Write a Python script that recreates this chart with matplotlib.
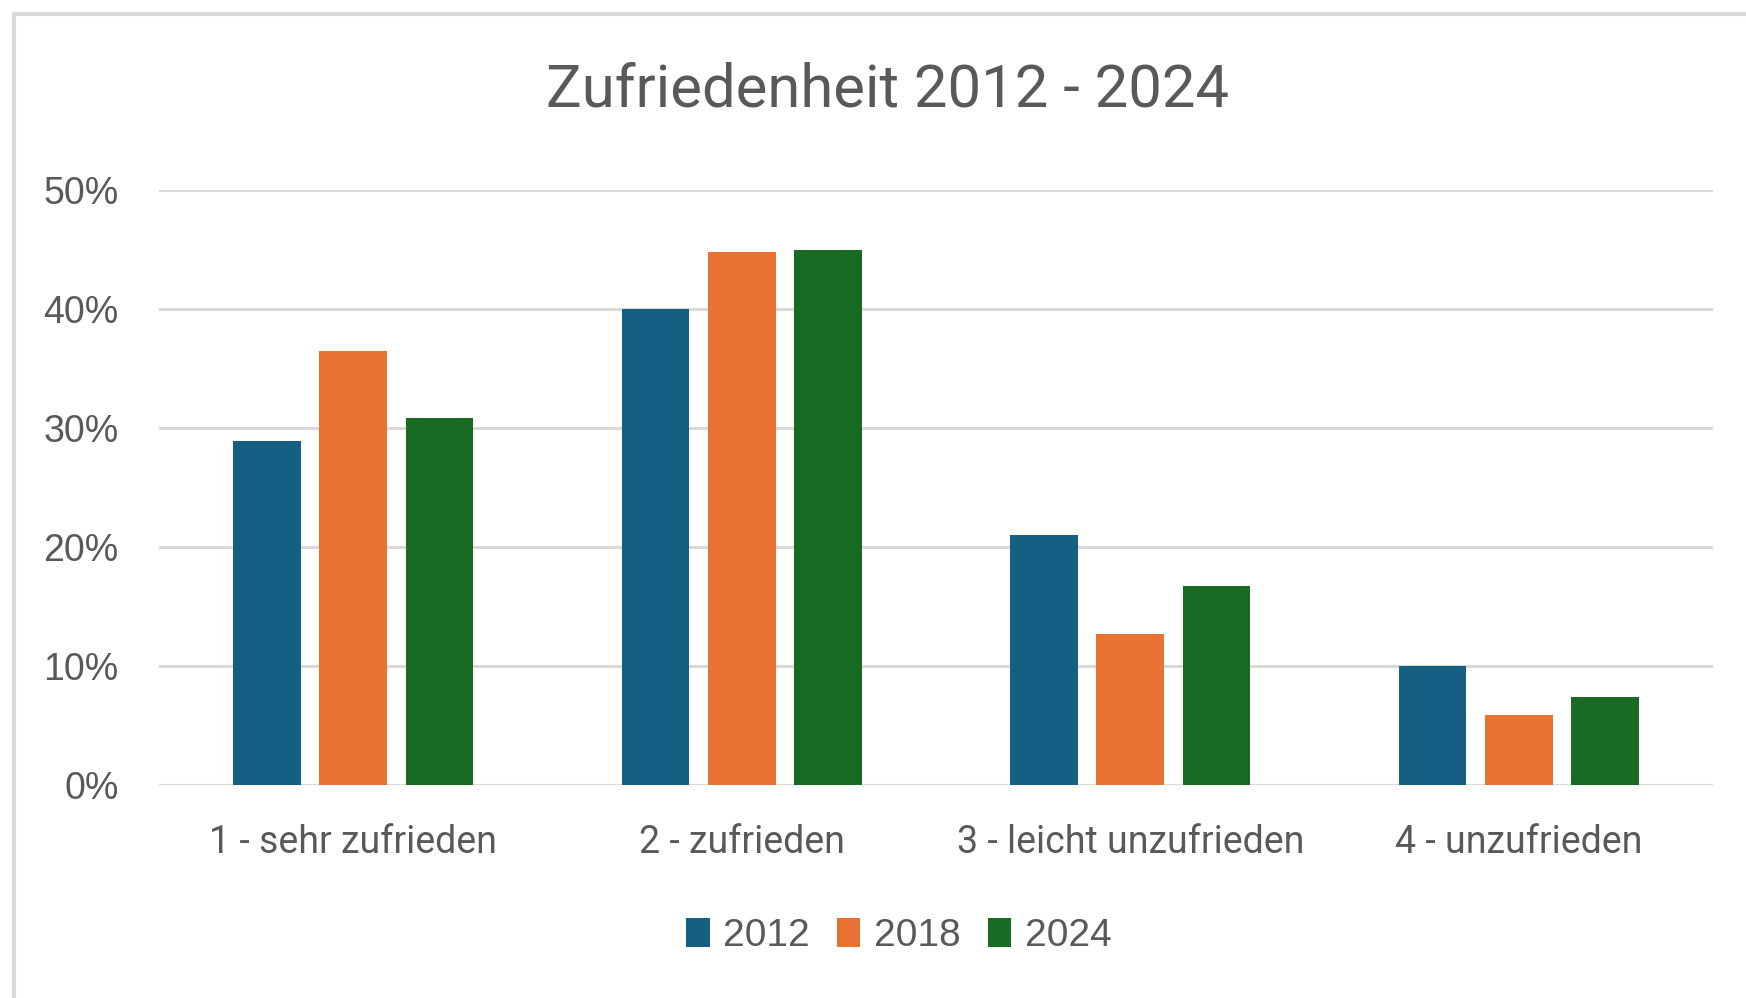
import numpy as np
import matplotlib
matplotlib.use("Agg")
import matplotlib.pyplot as plt
from matplotlib import font_manager
from matplotlib.patches import Rectangle, Patch

categories = ["1 - sehr zufrieden", "2 - zufrieden", "3 - leicht unzufrieden", "4 - unzufrieden"]
years = ["2012", "2018", "2024"]
v2012 = [0.289, 0.400, 0.210, 0.100]
v2018 = [0.365, 0.448, 0.127, 0.059]
v2024 = [0.308, 0.450, 0.167, 0.074]
yticks = [0, 0.1, 0.2, 0.3, 0.4, 0.5]

colors = ["#156082", "#E97132", "#196B24"]
grey = "#595959"

names = {f.name for f in font_manager.fontManager.ttflist}
narrow = "Liberation Sans Narrow" if "Liberation Sans Narrow" in names else "Roboto"
plain = "Liberation Sans"

W, H = 1746, 998
fig = plt.figure(figsize=(W / 100, H / 100), dpi=100)
ax = fig.add_axes([159 / W, 1 - 785 / H, (1713 - 159) / W, (785 - 190) / H])

x = np.arange(len(categories))
bw = 0.175
step = 0.222
for i, vals in enumerate([v2012, v2018, v2024]):
    ax.bar(x + (i - 1) * step, vals, width=bw, color=colors[i], zorder=3)

ax.set_xlim(-0.5, 3.5)
ax.set_ylim(0, 0.5)
ax.set_yticks(yticks)
ax.set_yticklabels([f"{int(round(t * 100))}%" for t in yticks], fontsize=27,
                   color=grey, family=plain)
ax.set_xticks(x)
ax.set_xticklabels(categories, fontsize=27, color=grey, family=narrow)
ax.tick_params(axis="both", length=0)
ax.tick_params(axis="y", pad=29)
ax.tick_params(axis="x", pad=28)
ax.grid(axis="y", color="#d9d9d9", linewidth=2.2, zorder=0)
for s in ax.spines.values():
    s.set_visible(False)

fig.text(888 / W, 1 - 90 / H, "Zufriedenheit 2012 - 2024", ha="center", va="center",
         fontsize=43, color=grey, family=narrow)

handles = [Patch(facecolor=c) for c in colors]
leg = fig.legend(handles, years, loc="center", bbox_to_anchor=(899 / W, 1 - 936 / H),
                 ncol=3, frameon=False, handlelength=0.6, handleheight=0.75,
                 handletextpad=0.35, columnspacing=0.7, prop={"family": plain, "size": 28})
for t in leg.get_texts():
    t.set_color(grey)

# outer chart frame (cut off at right/bottom)
fig.patches.append(Rectangle((14 / W, -0.1), 1.2, 1 - 14 / H + 0.1, transform=fig.transFigure,
                             fill=False, edgecolor="#d9d9d9", linewidth=3, zorder=0))

fig.savefig("out.png", dpi=100)
